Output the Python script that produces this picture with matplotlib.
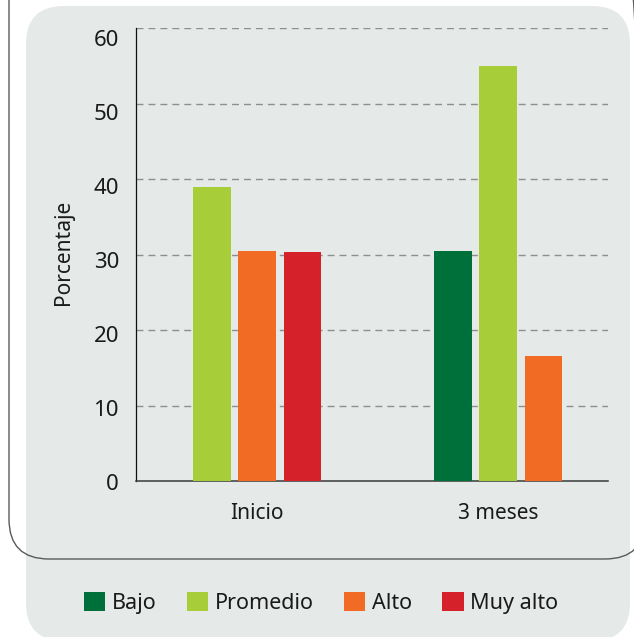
import matplotlib
matplotlib.use("Agg")
import matplotlib.pyplot as plt
from matplotlib.patches import FancyBboxPatch, Patch
from matplotlib.transforms import IdentityTransform, ScaledTranslation

plt.rcParams['font.family'] = ['Noto Sans', 'DejaVu Sans']

# categories and series (percent); zero values are not drawn
categories = ["Inicio", "3 meses"]
series = ["Bajo", "Promedio", "Alto", "Muy alto"]
colors = ["#00703A", "#A7CE39", "#F26B25", "#D52129"]
bajo = [0, 30.5]
promedio = [39.0, 55.0]
alto = [30.5, 16.5]
muy_alto = [30.3, 0]
yticks = [0, 10, 20, 30, 40, 50, 60]

values = [bajo, promedio, alto, muy_alto]

W, H = 634, 637
fig = plt.figure(figsize=(W / 100, H / 100), dpi=100)
fig.patch.set_facecolor("white")

# grey panel behind everything (pixel coords, origin bottom-left)
panel = FancyBboxPatch((26, -4), 604, H - 6 + 4,
                       boxstyle="round,pad=0,rounding_size=38",
                       facecolor="#E5E9E8", edgecolor="none",
                       transform=IdentityTransform(), zorder=0)
fig.add_artist(panel)

# outline around the chart area
frame = FancyBboxPatch((9, H - 559), 636, 700,
                       boxstyle="round,pad=0,rounding_size=40",
                       facecolor="none", edgecolor="#5a5a5a", linewidth=1.0,
                       transform=IdentityTransform(), zorder=1)
fig.add_artist(frame)

ax = fig.add_axes([136 / W, (H - 481) / H, 472 / W, 453 / H])
ax.set_facecolor("none")
ax.set_zorder(2)

step = 0.1884
width = 0.157
for ci, cat in enumerate(categories):
    shown = [si for si in range(len(series)) if values[si][ci] > 0]
    n = len(shown)
    for k, si in enumerate(shown):
        x = ci + (k - (n - 1) / 2) * step
        ax.bar(x, values[si][ci], width=width, color=colors[si], zorder=3)

ax.set_xlim(-0.502, 1.456)
ax.set_ylim(0, 60)

for v in yticks[1:]:
    ax.axhline(v, color="#8E8E8E", linewidth=1.0, linestyle=(0, (5, 3.6)), zorder=1)

ax.set_yticks(yticks)
ax.set_yticklabels([])
ax.tick_params(axis="y", length=0)
for v in yticks:
    off = ScaledTranslation(0, -(3.3 + 0.145 * v) / 100, fig.dpi_scale_trans)
    ax.text(-0.036, v, str(v), transform=ax.get_yaxis_transform() + off,
            ha="right", va="center", fontsize=16, color="#1a1a1a")

ax.set_xticks(range(len(categories)))
ax.set_xticklabels(categories, fontsize=15, color="#1a1a1a")
ax.tick_params(axis="x", length=0, pad=16)

for side in ["top", "right"]:
    ax.spines[side].set_visible(False)
ax.spines["left"].set_color("#111111")
ax.spines["left"].set_linewidth(0.9)
ax.spines["bottom"].set_color("#3a3a3a")
ax.spines["bottom"].set_linewidth(1.1)

fig.text(64 / W, 1 - 252 / H, "Porcentaje", rotation=90, ha="center", va="center",
         fontsize=15, color="#1a1a1a")

handles = [Patch(facecolor=c, edgecolor="none") for c in colors]
fig.legend(handles, series, loc="center", bbox_to_anchor=(321 / W, 1 - 603 / H),
           ncol=4, frameon=False, fontsize=15.5, handlelength=1.0, handleheight=1.0,
           handletextpad=0.3, columnspacing=1.4, labelcolor="#1a1a1a")

fig.savefig("out.png", dpi=100)
